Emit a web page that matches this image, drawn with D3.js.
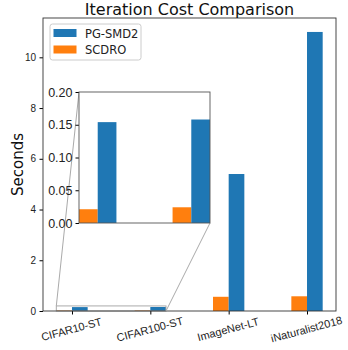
<!DOCTYPE html>
<html>
<head>
<meta charset="utf-8">
<script src="https://cdn.jsdelivr.net/npm/d3@7"></script>
<style>
  body { margin: 0; background: #fff; }
  svg { display: block; font-family: "DejaVu Sans", sans-serif; }
</style>
</head>
<body>
<svg></svg>
<script>
const datasets = ['CIFAR10-ST', 'CIFAR100-ST', 'ImageNet-LT', 'iNaturalist2018'];
const pgsmd2 = [0.154, 0.158, 5.4, 11.0];
const scdro = [0.021, 0.024, 0.56, 0.58];
const mainTicks = [0, 2, 4, 6, 8, 10];
const insetTicks = [0, 0.05, 0.10, 0.15, 0.20];

const size = {w: 348, h: 350};
const margin = {t: 18, r: 12, b: 39, l: 43};
const blue = '#1f77b4', orange = '#ff7f0e';
const barW = 0.2;

const svg = d3.select('svg').attr('width', size.w).attr('height', size.h);

//main scales
const x = d3.scaleLinear().domain([-0.37, 3.37]).range([margin.l, size.w - margin.r]);
const y = d3.scaleLinear().domain([0, 11.55]).range([size.h - margin.b, margin.t]);

const series = [
  {name: 'SCDRO', vals: scdro, color: orange, off: -barW},
  {name: 'PG-SMD2', vals: pgsmd2, color: blue, off: 0}
];

//Draw bars
function drawBars(g, xs, ys) {
  series.forEach(s => {
    g.selectAll(null)
      .data(s.vals)
      .enter()
      .append('rect')
      .attr('x', (d, i) => xs(i + s.off))
      .attr('width', xs(barW) - xs(0))
      .attr('y', d => ys(d))
      .attr('height', d => ys(0) - ys(d))
      .attr('fill', s.color);
  });
}

const mainG = svg.append('g');
drawBars(mainG, x, y);

//zoom rectangle on main plot
const zx0 = -0.2, zx1 = 1.2, zy1 = 0.2;
mainG.append('rect')
  .attr('x', x(zx0)).attr('y', y(zy1))
  .attr('width', x(zx1) - x(zx0)).attr('height', y(0) - y(zy1))
  .attr('fill', 'none').attr('stroke', '#aaa').attr('stroke-width', 1);

//axes
const yAxis = d3.axisLeft(y).tickValues(mainTicks).tickFormat(d3.format('d')).tickSize(3.5).tickPadding(3.5);
svg.append('g').attr('transform', `translate(${margin.l},0)`).call(yAxis)
  .call(g => g.select('.domain').remove())
  .selectAll('text').attr('font-size', 10).attr('fill', '#222');

const xAxis = d3.axisBottom(x).tickValues(d3.range(datasets.length)).tickFormat(i => datasets[i]).tickSize(3.5);
const xg = svg.append('g').attr('transform', `translate(0,${size.h - margin.b})`).call(xAxis);
xg.select('.domain').remove();
xg.selectAll('text')
  .attr('font-size', 11).attr('fill', '#222')
  .attr('text-anchor', 'middle')
  .attr('dy', 0)
  .attr('y', 0)
  .attr('transform', 'translate(0,22) rotate(-15)');

svg.append('rect')
  .attr('x', margin.l).attr('y', margin.t)
  .attr('width', size.w - margin.r - margin.l).attr('height', size.h - margin.b - margin.t)
  .attr('fill', 'none').attr('stroke', '#333').attr('stroke-width', 0.9);

//inset
const inset = {l: 79, r: 210, t: 92, b: 223};
const ix = d3.scaleLinear().domain([zx0, zx1]).range([inset.l, inset.r]);
const iy = d3.scaleLinear().domain([0, zy1]).range([inset.b, inset.t]);

//connector lines
svg.append('line')
  .attr('x1', inset.l).attr('y1', inset.t).attr('x2', x(zx0)).attr('y2', y(zy1))
  .attr('stroke', '#aaa').attr('stroke-width', 1);
svg.append('line')
  .attr('x1', inset.r).attr('y1', inset.b).attr('x2', x(zx1)).attr('y2', y(0))
  .attr('stroke', '#aaa').attr('stroke-width', 1);

svg.append('rect')
  .attr('x', inset.l).attr('y', inset.t)
  .attr('width', inset.r - inset.l).attr('height', inset.b - inset.t)
  .attr('fill', '#fff');

svg.append('clipPath').attr('id', 'insetClip')
  .append('rect')
  .attr('x', inset.l).attr('y', inset.t)
  .attr('width', inset.r - inset.l).attr('height', inset.b - inset.t);

const insetG = svg.append('g').attr('clip-path', 'url(#insetClip)');
drawBars(insetG, ix, iy);

const iyAxis = d3.axisLeft(iy).tickValues(insetTicks).tickFormat(d3.format('.2f')).tickSize(3.5).tickPadding(3);
svg.append('g').attr('transform', `translate(${inset.l},0)`).call(iyAxis)
  .call(g => g.select('.domain').remove())
  .selectAll('text').attr('font-size', 12.5).attr('fill', '#222');

svg.append('rect')
  .attr('x', inset.l).attr('y', inset.t)
  .attr('width', inset.r - inset.l).attr('height', inset.b - inset.t)
  .attr('fill', 'none').attr('stroke', '#555').attr('stroke-width', 0.9);

//title & labels
svg.append('text')
  .attr('x', (margin.l + size.w - margin.r) / 2).attr('y', 15)
  .attr('text-anchor', 'middle').attr('font-size', 16).attr('fill', '#111')
  .text('Iteration Cost Comparison');

svg.append('text')
  .attr('transform', `translate(22.5,${(margin.t + size.h - margin.b) / 2}) rotate(-90)`)
  .attr('text-anchor', 'middle').attr('font-size', 15).attr('fill', '#111')
  .text('Seconds');

//legend
const legend = svg.append('g').attr('transform', 'translate(50,24)');
legend.append('rect')
  .attr('width', 91).attr('height', 36).attr('rx', 2.5)
  .attr('fill', '#fff').attr('fill-opacity', 0.8).attr('stroke', '#ccc');
const legendItems = [series[1], series[0]];
legendItems.forEach((s, i) => {
  legend.append('rect')
    .attr('x', 3.5).attr('y', 5 + i * 16.5).attr('width', 23).attr('height', 8)
    .attr('fill', s.color);
  legend.append('text')
    .attr('x', 35).attr('y', 13.5 + i * 16.5)
    .attr('font-size', 11.5).attr('fill', '#222')
    .text(s.name);
});
</script>
</body>
</html>
